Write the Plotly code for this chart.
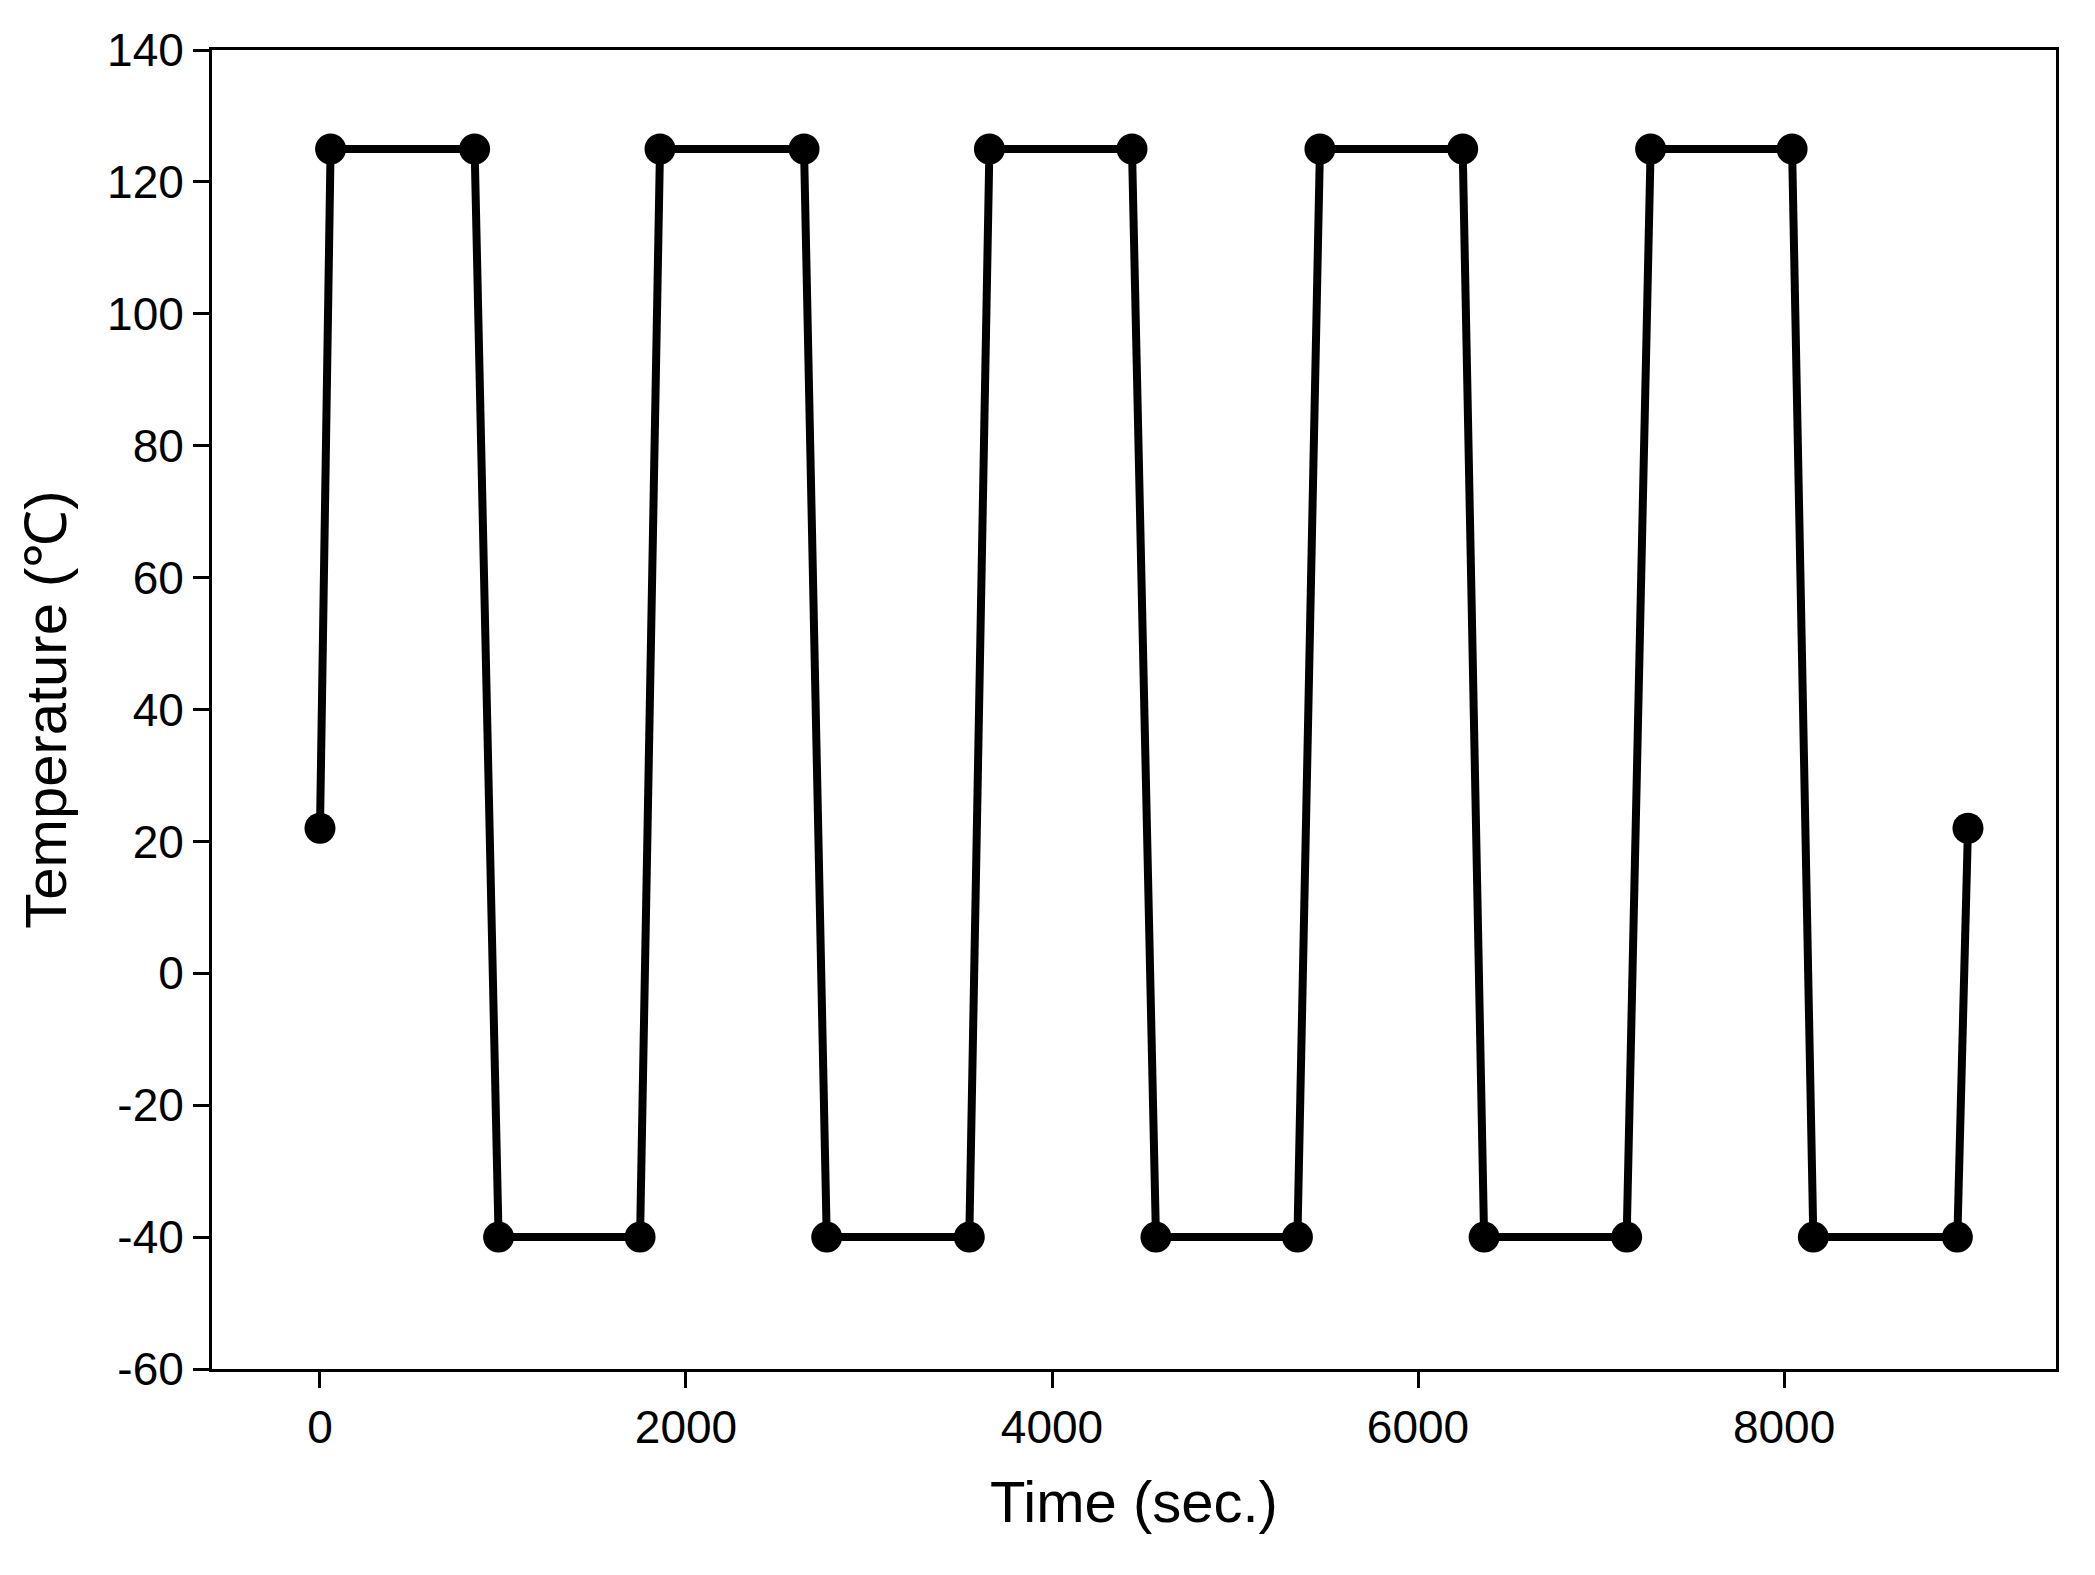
import plotly.graph_objects as go

time_s = [0, 58, 845, 976, 1749, 1858, 2645, 2769, 3548, 3658, 4437, 4568, 5341, 5464, 6244, 6361, 7140, 7271, 8044, 8160, 8947, 9005]
temp_c = [22, 125, 125, -40, -40, 125, 125, -40, -40, 125, 125, -40, -40, 125, 125, -40, -40, 125, 125, -40, -40, 22]
y_ticks = [-60, -40, -20, 0, 20, 40, 60, 80, 100, 120, 140]
x_ticks = [0, 2000, 4000, 6000, 8000]

fig = go.Figure(go.Scatter(x=time_s, y=temp_c, mode="lines+markers",
    line=dict(color="black", width=8), marker=dict(color="black", size=31)))

ax = dict(showline=True, linecolor="black", linewidth=3, mirror=True, ticks="outside",
          ticklen=16, tickwidth=3, tickcolor="black", showgrid=False, zeroline=False,
          tickfont=dict(size=46, color="black"))
fig.update_xaxes(range=[-590, 9486], tickvals=x_ticks, ticktext=[str(v) for v in x_ticks],
                 title=dict(text="Time (sec.)", font=dict(size=58, color="black"), standoff=30), **ax)
fig.update_yaxes(range=[-60, 140], tickvals=y_ticks, ticktext=[str(v) for v in y_ticks],
                 title=dict(text="Temperature (℃)", font=dict(size=58, color="black"), standoff=22), **ax)
fig.update_layout(width=2095, height=1575, plot_bgcolor="white", paper_bgcolor="white",
                  font=dict(family="Liberation Sans"), showlegend=False,
                  margin=dict(l=204, r=47, t=42, b=214))
fig.write_html("out.html")
